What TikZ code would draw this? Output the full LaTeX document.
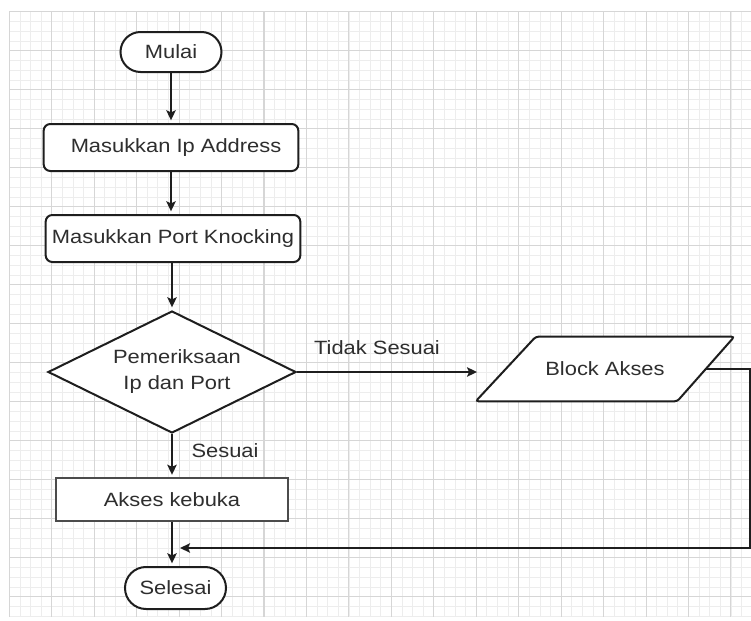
\documentclass[tikz,border=0pt]{standalone}
\usepackage{fontspec}
\setmainfont{Liberation Sans}[FakeStretch=1.14]
\usetikzlibrary{shapes.geometric,arrows.meta,calc}
\definecolor{ink}{HTML}{1E1E1E}
\definecolor{txt}{HTML}{2E2E2E}
\definecolor{gridmajor}{HTML}{D6D6D6}
\definecolor{gridminor}{HTML}{EDEDED}

\tikzset{
  lbl/.style={font=\fontsize{14.4}{19.5}\selectfont, text=txt, inner sep=0pt},
  term/.style={lbl, draw=ink, fill=white, line width=1.5pt, inner sep=0pt,
               minimum width=75.75pt, minimum height=#1, rounded corners=#1/2},
  inbox/.style={lbl, draw=ink, fill=white, line width=1.5pt, rounded corners=5pt,
               minimum width=191pt, minimum height=35.25pt},
  plainbox/.style={lbl, draw=black!70, fill=white, line width=0.8pt,
               minimum width=174pt, minimum height=32.25pt},
  decision/.style={lbl, diamond, aspect=2.03, draw=ink, fill=white, line width=1.5pt,
               minimum width=186pt, minimum height=91.5pt, align=center},
  ghost/.style={lbl, minimum width=193.5pt, minimum height=48pt},
  conn/.style={draw=ink, line width=1.5pt},
  arr/.style={conn, -{Stealth[length=7.5pt,width=7pt,inset=1.5pt]}, shorten >=2pt},
  minorline/.style={draw=gridminor, line width=0.6pt},
  majorline/.style={draw=gridmajor, line width=0.8pt}
}

\begin{document}
\begin{tikzpicture}[x=0.75pt,y=-0.75pt]
  \useasboundingbox (0,0) rectangle (751,621);
  \fill[white] (0,0) rectangle (751,621);

  % background grid: 4 minor cells per major cell
  \foreach \i in {0,...,70} {
    \draw[minorline] ({9.3+10.6125*\i},11.7) -- ({9.3+10.6125*\i},617);
  }
  \foreach \j in {0,...,62} {
    \draw[minorline] (9.3,{11.7+9.75*\j}) -- (751,{11.7+9.75*\j});
  }
  \foreach \i in {0,...,17} {
    \draw[majorline] ({9.3+42.45*\i},11.7) -- ({9.3+42.45*\i},617);
  }
  \foreach \j in {0,...,15} {
    \draw[majorline] (9.3,{11.7+39*\j}) -- (751,{11.7+39*\j});
  }

  % flowchart nodes
  \node[term=30pt]  (mulai) at (171,52)    {Mulai};
  \node[inbox]      (in1)   at (171,147.5) {\hspace*{7.5pt}Masukkan Ip Address};
  \node[inbox]      (in2)   at (173,238.5) {Masukkan Port Knocking};
  \node[decision]   (dec)   at (172,372)   {\hspace*{7.5pt}Pemeriksaan\\\hspace*{7.5pt}Ip dan Port};
  \node[plainbox]   (open)  at (172,499.5) {Akses kebuka};
  \node[term=31.5pt] (done) at (175.5,588) {Selesai};

  % input/output block (parallelogram around its label)
  \node[ghost] (blk) at (605,369) {};
  \draw[draw=ink, fill=white, line width=1.5pt, rounded corners=2pt]
    (blk.south west) -- ($(blk.north west)+(60,0)$) -- (blk.north east)
    -- ($(blk.south east)+(-57,0)$) -- cycle;
  \node[lbl] (blktxt) at (blk.center) {Block Akses};

  % branch labels
  \node[lbl] (tidak)  at (377,348) {Tidak Sesuai};
  \node[lbl] (sesuai) at (225,451) {Sesuai};

  % connectors
  \draw[arr] (mulai.south) -- (mulai.south |- in1.north);
  \draw[arr] (in1.south) -- (in1.south |- in2.north);
  \draw[arr] (in2.south -| dec.north) -- (dec.north);
  \draw[arr] (dec.south) -- (dec.south |- open.north);
  \draw[arr] (dec.east) -- ([xshift=3pt]dec.east -| blk.west);
  \draw[arr] (open.south) -- (open.south |- done.north);

  \coordinate (turn)  at (750,548);
  \coordinate (merge) at (180,548);
  \draw[arr, shorten >=0pt] ($(blk.east)+(-28.5,0)$) -| (turn) -- (merge);
\end{tikzpicture}
\end{document}
